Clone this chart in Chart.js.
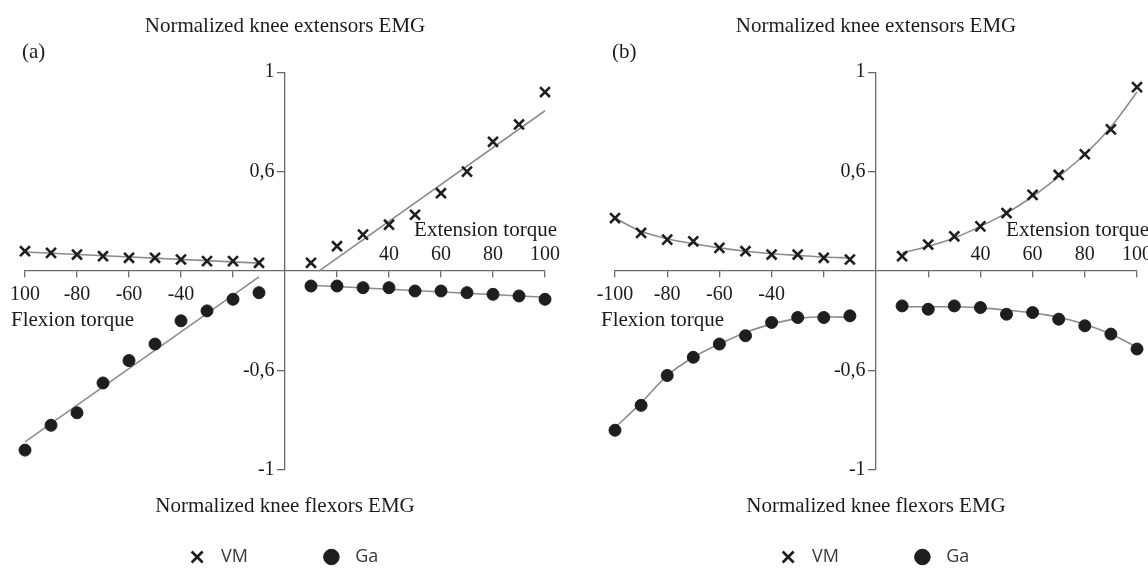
<!DOCTYPE html>
<html>
<head>
<meta charset="utf-8">
<script src="https://cdn.jsdelivr.net/npm/chart.js@4.4.1/dist/chart.umd.min.js"></script>
<style>
  html, body { margin: 0; padding: 0; background: #fff; overflow: hidden; }
  #wrap { position: relative; width: 1148px; height: 576px; overflow: hidden; }
  #chartA { position: absolute; left: 0; top: 0; }
  #chartB { position: absolute; left: 590px; top: 0; }
</style>
</head>
<body>
<div id="wrap">
  <canvas id="chartA" width="574" height="576"></canvas>
  <canvas id="chartB" width="578" height="576"></canvas>
</div>
<script>
// torque steps (% of max), flexion side and extension side
const flexTorque = [-100, -90, -80, -70, -60, -50, -40, -30, -20, -10];
const extTorque = [10, 20, 30, 40, 50, 60, 70, 80, 90, 100];

// y ticks: equal spacing between labelled values
const yTicks = [-1, -0.6, 0, 0.6, 1];

// (a) normalized EMG
const vmFlexA = [0.12, 0.11, 0.10, 0.09, 0.08, 0.08, 0.07, 0.06, 0.06, 0.05];
const vmExtA = [0.05, 0.15, 0.22, 0.28, 0.34, 0.47, 0.60, 0.72, 0.79, 0.92];
const gaFlexA = [-0.92, -0.82, -0.77, -0.65, -0.54, -0.44, -0.30, -0.24, -0.17, -0.13];
const gaExtA = [-0.09, -0.09, -0.10, -0.10, -0.12, -0.12, -0.13, -0.14, -0.15, -0.17];

// (a) linear trend lines, end points
const vmFlexFitXA = [-100, -10], vmFlexFitA = [0.115, 0.048];
const vmExtFitXA = [13, 100], vmExtFitA = [0.0, 0.845];
const gaFlexFitXA = [-100, -10], gaFlexFitA = [-0.887, -0.035];
const gaExtFitXA = [10, 100], gaExtFitA = [-0.085, -0.158];

// (b) normalized EMG
const vmFlexB = [0.32, 0.23, 0.19, 0.18, 0.14, 0.12, 0.10, 0.10, 0.08, 0.07];
const vmExtB = [0.09, 0.16, 0.21, 0.27, 0.35, 0.46, 0.58, 0.67, 0.77, 0.94];
const gaFlexB = [-0.84, -0.74, -0.62, -0.52, -0.44, -0.39, -0.31, -0.28, -0.28, -0.27];
const gaExtB = [-0.21, -0.23, -0.21, -0.22, -0.26, -0.25, -0.29, -0.33, -0.38, -0.47];

// (b) polynomial trend curves at the same torque steps
const vmFlexFitB = [0.32, 0.24, 0.195, 0.165, 0.14, 0.12, 0.105, 0.095, 0.085, 0.08];
const vmExtFitB = [0.11, 0.15, 0.20, 0.27, 0.35, 0.45, 0.57, 0.67, 0.78, 0.92];
const gaFlexFitB = [-0.83, -0.73, -0.62, -0.52, -0.44, -0.37, -0.32, -0.285, -0.275, -0.28];
const gaExtFitB = [-0.215, -0.215, -0.215, -0.222, -0.235, -0.252, -0.278, -0.32, -0.38, -0.46];

const SERIF = '"Liberation Serif", "DejaVu Serif", serif';
const TEXT = '#1c1c1c';
const AXIS = '#6a6a6a';
const MARK = '#1e1e1e';
const FIT = '#8c8c8c';
const CLEAR = 'rgba(0,0,0,0)';

// y scale where the labelled ticks sit at equal distances
class BrokenAxisScale extends Chart.LinearScale {
  toDecimal(v) {
    const n = yTicks.length - 1;
    let i = 0;
    while (i < n - 1 && v > yTicks[i + 1]) i++;
    return (i + (v - yTicks[i]) / (yTicks[i + 1] - yTicks[i])) / n;
  }
  fromDecimal(d) {
    const n = yTicks.length - 1;
    const f = d * n;
    const i = Math.min(Math.max(Math.floor(f), 0), n - 1);
    return yTicks[i] + (f - i) * (yTicks[i + 1] - yTicks[i]);
  }
  getPixelForValue(value) {
    return this.getPixelForDecimal(this.toDecimal(value));
  }
  getValueForPixel(pixel) {
    return this.fromDecimal(this.getDecimalForPixel(pixel));
  }
}
BrokenAxisScale.id = 'brokenAxis';
BrokenAxisScale.defaults = Chart.LinearScale.defaults;
Chart.register(BrokenAxisScale);

function pts(xs, ys) {
  return xs.map((x, i) => ({ x, y: ys[i] }));
}

function markers(label, xs, ys, style) {
  const cross = style === 'crossRot';
  return {
    label,
    data: pts(xs, ys),
    pointStyle: style,
    pointRadius: cross ? 7 : 6,
    pointHoverRadius: cross ? 7 : 6,
    pointBorderWidth: cross ? 2.6 : 1,
    pointBorderColor: MARK,
    pointBackgroundColor: MARK,
    showLine: false,
    clip: false,
    order: 1
  };
}

function trend(label, xs, ys, curved) {
  return {
    label,
    data: pts(xs, ys),
    showLine: true,
    borderColor: FIT,
    borderWidth: 1.6,
    pointRadius: 0,
    tension: curved ? 0.4 : 0,
    cubicInterpolationMode: curved ? 'monotone' : 'default',
    clip: false,
    order: 2
  };
}

// free-standing axis captions and panel tag
const panelText = {
  id: 'panelText',
  afterDraw(chart, args, opts) {
    const { ctx, scales: { x, y } } = chart;
    const zeroY = y.getPixelForValue(0);
    ctx.save();
    ctx.fillStyle = TEXT;
    ctx.font = '21px ' + SERIF;
    ctx.textBaseline = 'middle';
    ctx.textAlign = 'left';
    ctx.fillText(opts.tag, 22, 52);
    ctx.textAlign = 'right';
    ctx.fillText('Extension torque', x.getPixelForValue(100) + 12, zeroY - 41);
    ctx.textAlign = 'left';
    ctx.fillText('Flexion torque', x.getPixelForValue(-100) - 14, zeroY + 49);
    ctx.textAlign = 'center';
    ctx.fillText('Normalized knee flexors EMG', x.getPixelForValue(0), y.bottom + 36);
    ctx.restore();
  }
};

const yTickLabel = v => (v === 0 ? '' : String(v).replace('.', ','));
const setYTicks = s => { s.ticks = yTicks.map(v => ({ value: v })); };

function legendItems(chart) {
  return Chart.defaults.plugins.legend.labels.generateLabels(chart)
    .filter(item => item.text === 'VM' || item.text === 'Ga')
    .map(item => Object.assign(item, { text: '  ' + item.text }));
}

function makeChart(id, tag, minLabel, datasets, rightPad) {
  const tickFont = { family: SERIF, size: 20 };
  return new Chart(document.getElementById(id), {
    type: 'scatter',
    data: { datasets },
    plugins: [panelText],
    options: {
      responsive: false,
      animation: false,
      layout: { padding: { left: 25, right: rightPad, top: 0, bottom: 0 } },
      scales: {
        x: {
          type: 'linear', axis: 'x', min: -100, max: 100,
          position: { y: 0 },
          grid: {
            drawOnChartArea: false, tickLength: 6, lineWidth: 1.3,
            tickColor: c => (c.tick && c.tick.value === 0 ? CLEAR : AXIS)
          },
          border: { color: AXIS, width: 1.3 },
          ticks: {
            stepSize: 20, autoSkip: false, maxRotation: 0, padding: 6,
            font: tickFont, color: TEXT,
            callback: v => (v === -100 ? minLabel : (v <= -40 ? String(v) : ''))
          }
        },
        xUpper: {
          type: 'linear', axis: 'x', min: -100, max: 100,
          position: { y: 0 },
          grid: { display: false, drawTicks: false },
          border: { display: false },
          ticks: {
            stepSize: 20, autoSkip: false, maxRotation: 0, padding: -28,
            font: tickFont, color: TEXT,
            callback: v => (v >= 40 ? String(v) : '')
          }
        },
        y: {
          type: 'brokenAxis', axis: 'y', min: -1, max: 1,
          position: { x: 0 },
          afterBuildTicks: setYTicks,
          grid: {
            drawOnChartArea: false, tickLength: 7, lineWidth: 1.3,
            tickColor: c => (c.tick && c.tick.value === 0 ? CLEAR : AXIS)
          },
          border: { color: AXIS, width: 1.3 },
          ticks: { callback: () => '' }
        },
        // tick labels set just left of the y axis tick marks
        yLabels: {
          type: 'brokenAxis', axis: 'y', min: -1, max: 1,
          position: { x: -4 },
          afterBuildTicks: setYTicks,
          grid: { display: false, drawTicks: false },
          border: { display: false },
          ticks: { font: tickFont, color: TEXT, callback: yTickLabel }
        }
      },
      plugins: {
        panelText: { tag },
        tooltip: { enabled: false },
        title: {
          display: true,
          text: 'Normalized knee extensors EMG',
          color: TEXT,
          font: { family: SERIF, size: 21, weight: 'normal' },
          padding: { top: 14, bottom: 33 }
        },
        legend: {
          position: 'bottom',
          labels: {
            usePointStyle: true,
            boxWidth: 11,
            boxHeight: 11,
            padding: 78,
            color: '#3a3a3a',
            font: { family: '"Open Sans", "Noto Sans", sans-serif', size: 18 },
            generateLabels: legendItems
          }
        }
      }
    }
  });
}

makeChart('chartA', '(a)', '100', [
  markers('VM', extTorque, vmExtA, 'crossRot'),
  markers('Ga', extTorque, gaExtA, 'circle'),
  markers('VM flexion', flexTorque, vmFlexA, 'crossRot'),
  markers('Ga flexion', flexTorque, gaFlexA, 'circle'),
  trend('VM trend ext', vmExtFitXA, vmExtFitA, false),
  trend('Ga trend ext', gaExtFitXA, gaExtFitA, false),
  trend('VM trend flex', vmFlexFitXA, vmFlexFitA, false),
  trend('Ga trend flex', gaFlexFitXA, gaFlexFitA, false)
], 29);

makeChart('chartB', '(b)', '-100', [
  markers('VM', extTorque, vmExtB, 'crossRot'),
  markers('Ga', extTorque, gaExtB, 'circle'),
  markers('VM flexion', flexTorque, vmFlexB, 'crossRot'),
  markers('Ga flexion', flexTorque, gaFlexB, 'circle'),
  trend('VM trend ext', extTorque, vmExtFitB, true),
  trend('Ga trend ext', extTorque, gaExtFitB, true),
  trend('VM trend flex', flexTorque, vmFlexFitB, true),
  trend('Ga trend flex', flexTorque, gaFlexFitB, true)
], 31);
</script>
</body>
</html>
